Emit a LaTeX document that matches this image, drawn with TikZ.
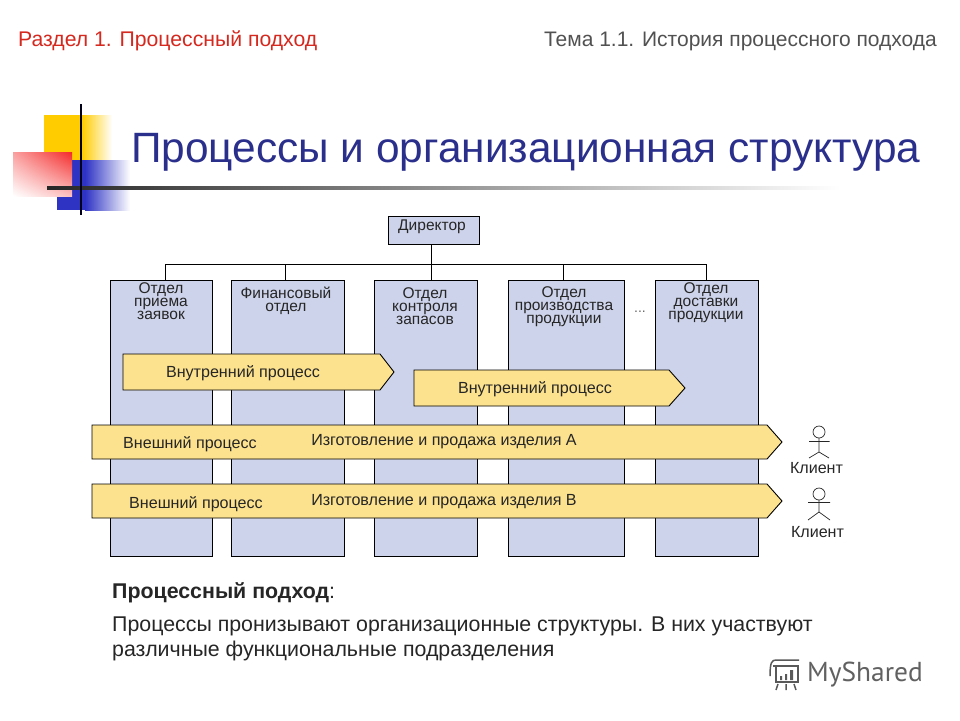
\documentclass[tikz,border=0pt]{standalone}
\usepackage{fontspec}
\setmainfont{Liberation Sans}
\newfontfamily\logofont{PT Sans}
\usetikzlibrary{calc,shadings}
\definecolor{titleblue}{HTML}{2B2F8C}
\definecolor{deptfill}{HTML}{CDD3EA}
\definecolor{procfill}{HTML}{FCE28E}
\definecolor{redtxt}{HTML}{D5281E}
\definecolor{txt}{HTML}{262626}
\definecolor{decoyellow}{HTML}{FFCC00}
\definecolor{decoblue}{HTML}{2E33C4}
\definecolor{decored}{HTML}{F42A2A}
\tikzset{
 dept/.style={draw=black,fill=deptfill,line width=.9pt},
 depttext/.style={text=txt,align=center,anchor=north,font=\fontsize{15.5}{13}\selectfont,inner sep=0pt},
 proc/.style={draw=black,fill=procfill,line width=.9pt,line join=miter},
 proctext/.style={text=txt,font=\fontsize{16.1}{19}\selectfont,inner sep=0pt},
 link/.style={draw=black,line width=.9pt},
 actor/.style={draw=black!85,line width=.7pt},
 body/.style={text=txt,anchor=west,font=\fontsize{21.35}{25}\selectfont,inner sep=0pt},
}
\begin{document}
\begin{tikzpicture}[x=1pt,y=-1pt]
\useasboundingbox (0,0) rectangle (960,720);
\fill[white] (0,0) rectangle (960,720);
% decoration
\shade[left color=decoyellow,right color=white] (82,115) rectangle (112,160);
\fill[decoyellow] (44,115) rectangle (82,160);
\shade[left color=decoblue,right color=white] (85,160) rectangle (130,210);
\fill[decoblue] (57,160) rectangle (85,210);
\shade[upper right=decored,lower left=white,upper left=decored!45!white,lower right=decored!30!white] (13,152) rectangle (72,196);
\shade[left color=black!85,right color=white] (47,186.5) rectangle (840,189.5);
\draw[black!90!blue,line width=2.6pt] (81,104) -- (81,215);
% header
\node[anchor=west,text=redtxt,font=\fontsize{21.2}{25}\selectfont,inner sep=0pt] (sec) at (18,41) {Раздел 1. Процессный подход};
\node[anchor=east,text=txt!80,font=\fontsize{21}{25}\selectfont,inner sep=0pt] (top) at (937,41) {Тема 1.1. История процессного подхода};
\node[anchor=west,text=titleblue,font=\fontsize{42.4}{48}\selectfont,inner sep=0pt] (title) at (131,152) {Процессы и организационная структура};
% departments
\node[dept,minimum width=91pt,minimum height=28pt,inner sep=0pt] (dir) at (433.5,230) {};
\node[depttext] (dirt) at (432,220) {Директор};
\node[dept,minimum width=102pt,minimum height=276pt,inner sep=0pt] (d1) at (161,418) {};
\node[dept,minimum width=113pt,minimum height=276pt,inner sep=0pt] (d2) at (287.5,418) {};
\node[dept,minimum width=103pt,minimum height=276pt,inner sep=0pt] (d3) at (425.5,418) {};
\node[dept,minimum width=116pt,minimum height=276pt,inner sep=0pt] (d4) at (566,418) {};
\node[dept,minimum width=103pt,minimum height=276pt,inner sep=0pt] (d5) at (706.5,418) {};
\node[depttext] (t1) at (161,282) {Отдел\\приема\\заявок};
\node[depttext] (t2) at (286,287) {Финансовый\\отдел};
\node[depttext] (t3) at (425,287) {Отдел\\контроля\\запасов};
\node[depttext] (t4) at (564,286) {Отдел\\производства\\продукции};
\node[depttext] (t5) at (706,282) {Отдел\\доставки\\продукции};
\node[text=txt!70,font=\fontsize{14}{15}\selectfont,inner sep=0pt] (dots) at (640,312) {...};
% connectors
\coordinate (busy) at (0,264);
\coordinate (s1) at ($(d1.north)+(4,0)$);
\coordinate (s2) at ($(d2.north)+(-2.5,0)$);
\coordinate (s3) at ($(d3.north)+(5.5,0)$);
\coordinate (s4) at ($(d4.north)+(-3,0)$);
\coordinate (s0) at ($(dir.south)+(-2.5,0)$);
\draw[link] (s1) -- (s1 |- busy) -- (d5.north |- busy) -- (d5.north);
\draw[link] (s2) -- (s2 |- busy);
\draw[link] (s3) -- (s0);
\draw[link] (s4) -- (s4 |- busy);
% processes
\draw[proc] (123,354) -- (380,354) -- (394,372) -- (380,390) -- (123,390) -- cycle;
\node[proctext] (p1) at (243,373.5) {Внутренний процесс};
\draw[proc] (414,370) -- (669,370) -- (685,388) -- (669,406) -- (414,406) -- cycle;
\node[proctext] (p2) at (535,389.5) {Внутренний процесс};
\draw[proc] (92,425) -- (767,425) -- (782,442) -- (767,459) -- (92,459) -- cycle;
\node[proctext] (e1) at (190,444.5) {Внешний процесс};
\node[proctext] (n1) at (444,442) {Изготовление и продажа изделия А};
\draw[proc] (92,484) -- (767,484) -- (782,501) -- (767,518) -- (92,518) -- cycle;
\node[proctext] (e2) at (196,504.5) {Внешний процесс};
\node[proctext] (n2) at (444,502) {Изготовление и продажа изделия В};
% actors
\draw[actor] (819,432) circle (6);
\draw[actor] (819,438) -- (819,452) (809,441.5) -- (829.5,441.5) (819,452) -- (809,458) (819,452) -- (829,458);
\draw[actor] (819,494) circle (6);
\draw[actor] (819,500) -- (819,512) (808,502.5) -- (830,502.5) (819,512) -- (808,520) (819,512) -- (830,520);
\node[proctext] (c1) at (816.5,468) {Клиент};
\node[proctext] (c2) at (817.5,532) {Клиент};
% body text
\node[body] (b1) at (112,593) {\textbf{Процессный подход}:};
\node[body] (b2) at (112,626) {Процессы пронизывают организационные структуры. В них участвуют};
\node[body] (b3) at (112,651) {различные функциональные подразделения};
% logo
\begin{scope}[draw=black!65,line width=1.5pt]
\draw (773,666) -- (799,666) (776,666) -- (776,682) -- (798,682) -- (798,666);
\draw (770,676) .. controls (770,662) and (772,660) .. (776,660) -- (799,660);
\draw (778,684) -- (776,690) (786,684) -- (786,690) (794,684) -- (796,690);
\fill[black!65] (780,676) rectangle (782,680) (785,674) rectangle (787,680) (790,670) rectangle (793,680);
\end{scope}
\node[anchor=west,text=black!62,font=\logofont\fontsize{27.4}{30}\selectfont,inner sep=0pt] (logo) at (807,675) {MyShared};
\end{tikzpicture}
\end{document}
